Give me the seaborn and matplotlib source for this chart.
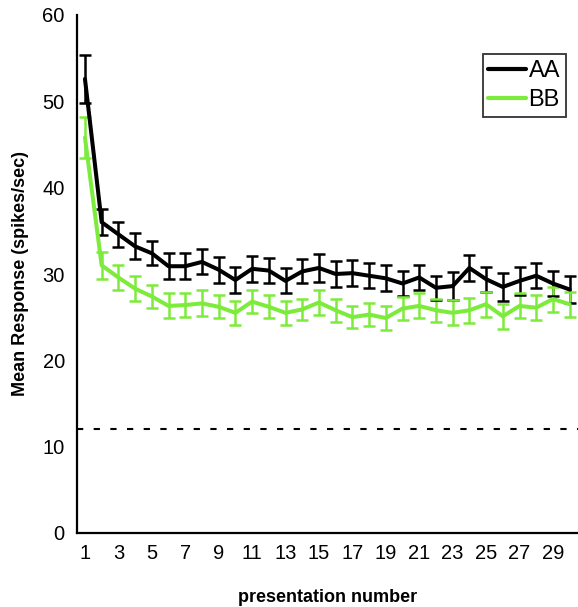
import matplotlib
matplotlib.use("Agg")
import matplotlib.pyplot as plt
import seaborn as sns
import pandas as pd
from matplotlib.ticker import FixedLocator
from matplotlib.lines import Line2D

presentation = list(range(1, 31))
aa_mean = [52.6, 36.0, 34.6, 33.2, 32.4, 30.9, 30.9, 31.4, 30.5, 29.3,
           30.6, 30.4, 29.2, 30.3, 30.7, 30.0, 30.1, 29.8, 29.5, 28.9,
           29.6, 28.4, 28.6, 30.7, 29.4, 28.5, 29.2, 29.8, 28.9, 28.2]
aa_sem = [2.8, 1.5, 1.45, 1.5, 1.4, 1.5, 1.5, 1.45, 1.5, 1.5,
          1.5, 1.5, 1.45, 1.4, 1.6, 1.45, 1.5, 1.45, 1.5, 1.4,
          1.45, 1.4, 1.6, 1.55, 1.45, 1.6, 1.6, 1.45, 1.45, 1.6]
bb_mean = [45.8, 31.0, 29.6, 28.3, 27.4, 26.3, 26.4, 26.6, 26.2, 25.5,
           26.8, 26.2, 25.5, 25.9, 26.7, 25.8, 25.0, 25.3, 24.9, 26.0,
           26.3, 25.8, 25.5, 25.8, 26.5, 25.1, 26.3, 26.1, 27.1, 26.5]
bb_sem = [2.35, 1.6, 1.45, 1.45, 1.35, 1.45, 1.4, 1.5, 1.35, 1.35,
          1.35, 1.35, 1.35, 1.25, 1.45, 1.35, 1.25, 1.35, 1.35, 1.35,
          1.45, 1.35, 1.45, 1.45, 1.45, 1.45, 1.45, 1.45, 1.45, 1.45]
baseline = 12
series_names = ["AA", "BB"]
series_colors = ["#000000", "#7DEB3C"]
xtick_labels = [str(i) for i in range(1, 30, 2)]

df = pd.DataFrame({
    "presentation": presentation * 2,
    "response": aa_mean + bb_mean,
    "sem": aa_sem + bb_sem,
    "group": ["AA"] * 30 + ["BB"] * 30,
})

sns.set_style("white")
plt.rcParams["font.family"] = ["Liberation Sans", "DejaVu Sans"]
plt.rcParams["text.color"] = "black"
plt.rcParams["axes.labelcolor"] = "black"
plt.rcParams["xtick.color"] = "black"
plt.rcParams["ytick.color"] = "black"

fig = plt.figure(figsize=(5.78, 6.07), dpi=100)
ax = fig.add_axes([76.6 / 578, 1 - 533 / 607, 1 - 76.6 / 578, (533 - 15) / 607])

# error bars (drawn first so lines sit on top)
for name, color in zip(series_names, series_colors):
    sub = df[df["group"] == name]
    ax.errorbar(sub["presentation"], sub["response"], yerr=sub["sem"],
                fmt="none", ecolor=color, elinewidth=1.8, capsize=4,
                capthick=1.8, zorder=2 if name == "AA" else 3)

sns.lineplot(data=df, x="presentation", y="response", hue="group",
             palette=dict(zip(series_names, series_colors)),
             linewidth=2.9, ax=ax, legend=False, estimator=None)
for ln in ax.lines:
    ln.set_zorder(4)

ax.axhline(baseline, color="black", linestyle=(0, (3, 5)), linewidth=1.5,
           zorder=1)

ax.set_xlim(0.5, 30.5)
ax.set_ylim(0, 60)
ax.set_yticks([0, 10, 20, 30, 40, 50, 60])
ax.set_xticks(list(range(1, 30, 2)))
ax.set_xticklabels(xtick_labels)
ax.xaxis.set_minor_locator(FixedLocator([i + 0.5 for i in range(1, 31)]))
ax.tick_params(axis="x", which="major", length=0, labelsize=14.5, pad=8)
ax.tick_params(axis="x", which="minor", direction="in", length=5, width=1.3,
               color="black")
ax.tick_params(axis="y", which="major", direction="inout", length=11,
               width=1.3, labelsize=14.5, pad=3, color="black")

for side in ["top", "right"]:
    ax.spines[side].set_visible(False)
for side in ["left", "bottom"]:
    ax.spines[side].set_color("black")
    ax.spines[side].set_linewidth(1.6)

ax.set_xlabel("presentation number", fontsize=13, fontweight="bold",
              labelpad=19)
ax.set_ylabel("Mean Response (spikes/sec)", fontsize=13, fontweight="bold",
              labelpad=10)

handles = [Line2D([0], [0], color=c, linewidth=3) for c in series_colors]
leg = ax.legend(handles, series_names, loc="upper right",
                bbox_to_anchor=(566 / 578, 1 - 54 / 607),
                bbox_transform=fig.transFigure, fontsize=17, frameon=True,
                fancybox=False, edgecolor="black", handlelength=1.6,
                handletextpad=0.1, borderpad=0.25, labelspacing=0.3,
                borderaxespad=0)
leg.get_frame().set_linewidth(1.3)

fig.savefig("out.png", dpi=100)
